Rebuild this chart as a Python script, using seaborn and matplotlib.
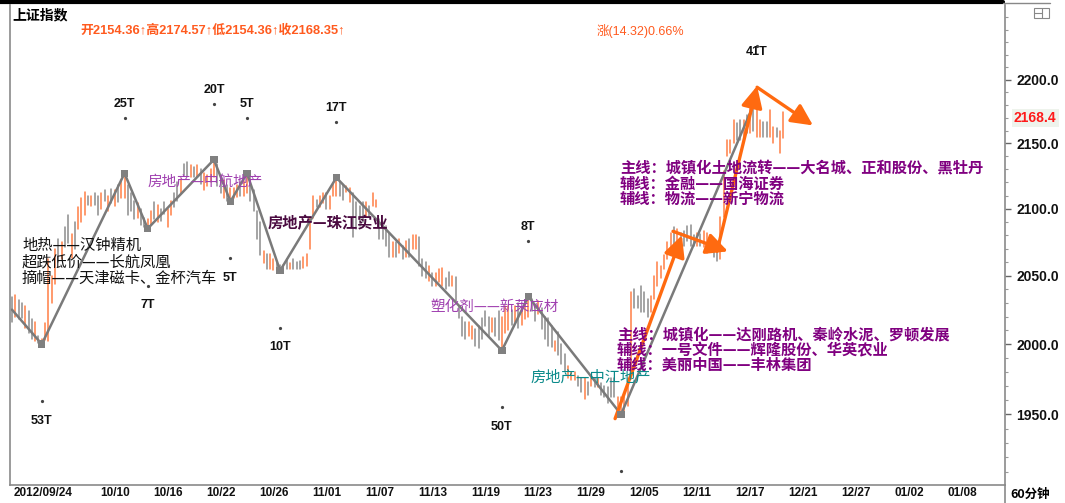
import numpy as np
import pandas as pd
import matplotlib
matplotlib.use('Agg')
import matplotlib.pyplot as plt
import matplotlib.transforms as mtrans
import matplotlib.patches as mpatches
from matplotlib.lines import Line2D
import seaborn as sns

sns.set_theme(style='white')
plt.rcParams['font.family'] = ['Noto Sans CJK SC', 'DejaVu Sans']
plt.rcParams['axes.unicode_minus'] = False

# ---------------- data (60-minute bars) ----------------
bar_high = [
    2034, 2036, 2032, 2030, 2028, 2024, 2018, 2016, 2006, 2004,
    2015, 2062, 2050, 2070, 2077, 2075, 2086, 2095, 2081, 2090,
    2101, 2108, 2113, 2110, 2110, 2112, 2110, 2112, 2114, 2110,
    2115, 2114, 2118, 2122, 2127, 2118, 2112, 2106, 2104, 2100,
    2093, 2092, 2098, 2105, 2103, 2100, 2105, 2100, 2106, 2112,
    2120, 2123, 2134, 2136, 2133, 2132, 2133, 2130, 2127, 2126,
    2130, 2137, 2134, 2126, 2122, 2118, 2116, 2116, 2118, 2120,
    2121, 2127, 2124, 2114, 2098, 2090, 2068, 2066, 2066, 2062,
    2060, 2058, 2058, 2062, 2059, 2062, 2060, 2061, 2064, 2066,
    2093, 2110, 2107, 2110, 2112, 2112, 2110, 2119, 2124, 2120,
    2118, 2117, 2116, 2112, 2105, 2102, 2105, 2105, 2102, 2112,
    2107, 2092, 2090, 2087, 2082, 2075, 2075, 2077, 2072, 2076,
    2077, 2080, 2080, 2079, 2062, 2060, 2057, 2052, 2052, 2055,
    2056, 2048, 2053, 2050, 2049, 2028, 2020, 2016, 2016, 2013,
    2011, 2013, 2019, 2024, 2020, 2019, 2019, 2024, 2020, 2028,
    2028, 2025, 2028, 2030, 2026, 2030, 2035, 2033, 2028, 2031,
    2026, 2020, 2019, 2013, 2002, 2009, 2000, 1993, 1984, 1980,
    1980, 1977, 1976, 1976, 1973, 1977, 1976, 1976, 1972, 1970,
    1969, 1976, 1976, 1962, 1962, 1962, 1976, 2038, 2040, 2035,
    2042, 2038, 2033, 2035, 2050, 2060, 2057, 2065, 2075, 2082,
    2086, 2085, 2082, 2083, 2087, 2088, 2080, 2082, 2081, 2083,
    2082, 2080, 2075, 2072, 2094, 2129, 2153, 2153, 2168, 2166,
    2168, 2168, 2172, 2178, 2182, 2186, 2168, 2167, 2167, 2176,
    2163, 2162, 2160, 2174.57,
]
bar_low = [
    2016, 2020, 2018, 2019, 2012, 2008, 2004, 2002, 2001, 2000,
    2003, 2002, 2030, 2044, 2060, 2062, 2071, 2074, 2063, 2070,
    2085, 2090, 2095, 2103, 2102, 2103, 2095, 2100, 2106, 2098,
    2104, 2102, 2105, 2108, 2108, 2095, 2098, 2092, 2093, 2088,
    2086, 2085, 2088, 2092, 2090, 2091, 2096, 2086, 2095, 2101,
    2106, 2112, 2126, 2125, 2124, 2124, 2124, 2119, 2114, 2117,
    2120, 2124, 2117, 2112, 2108, 2106, 2105, 2108, 2109, 2110,
    2110, 2112, 2106, 2098, 2077, 2065, 2059, 2055, 2055, 2054,
    2055, 2054, 2055, 2055, 2055, 2055, 2055, 2055, 2056, 2057,
    2070, 2093, 2101, 2101, 2104, 2100, 2100, 2110, 2110, 2110,
    2107, 2113, 2105, 2079, 2085, 2087, 2090, 2094, 2094, 2102,
    2101, 2077, 2077, 2072, 2064, 2064, 2064, 2067, 2062, 2064,
    2064, 2070, 2070, 2057, 2050, 2048, 2046, 2042, 2042, 2045,
    2042, 2040, 2042, 2042, 2031, 2019, 2006, 2004, 2006, 2004,
    1999, 1997, 2004, 2013, 2006, 2009, 2006, 2003, 1995, 2008,
    2010, 2014, 2016, 2012, 2014, 2018, 2020, 2024, 2017, 2022,
    2011, 2004, 1999, 1998, 1995, 1992, 1986, 1981, 1976, 1974,
    1974, 1970, 1966, 1961, 1964, 1970, 1969, 1969, 1964, 1962,
    1958, 1962, 1962, 1955, 1950, 1952, 1956, 1975, 2026, 2026,
    2023, 2023, 2020, 2023, 2033, 2042, 2048, 2055, 2062, 2070,
    2072, 2075, 2074, 2072, 2076, 2072, 2072, 2072, 2072, 2071,
    2067, 2068, 2064, 2061, 2062, 2094, 2140, 2143, 2150, 2153,
    2153, 2155, 2158, 2158, 2160, 2155, 2155, 2155, 2155, 2155,
    2150, 2155, 2143, 2154.36,
]
bar_dir = ("dudduddudu" "uuuududdud" "uuududdudu" "duduudddud" "duududduud"
           "duddududuu" "uudduduuud" "uudddduduu" "ddududdduu" "uuduuduuud"
           "duuddddudu" "uddddududu" "duuddduduu" "uddudddduu" "dddddudduu"
           "ududuuuddu" "dddduddduu" "uddudududd" "ddduuuuudd" "ddduuuuuuu"
           "dudddddudu" "uddduuuuud" "dududuuddu" "uduu")

# zigzag (wave) turning points: bar index, price, bar-count label
zig_idx = [0, 9, 34, 41, 61, 66, 71, 81, 98, 148, 156, 184, 225]
zig_price = [2025, 2000, 2127, 2085, 2137.5, 2105.5, 2127, 2053.7, 2123.7,
             1995.4, 2034.6, 1950, 2186]
zig_label = ['', '53T', '25T', '7T', '20T', '5T', '5T', '10T', '17T', '50T',
             '8T', '', '41T']

# x-axis date labels
date_pos = [0, 26, 42, 58, 74, 90, 106, 122, 138, 154, 170, 186, 202, 218,
            234, 250, 266, 282]
date_lbl = ['2012/09/24', '10/10', '10/16', '10/22', '10/26', '11/01', '11/07',
            '11/13', '11/19', '11/23', '11/29', '12/05', '12/11', '12/17',
            '12/21', '12/27', '01/02', '01/08']
price_ticks = [1950, 2000, 2050, 2100, 2150, 2200]

# hand-drawn orange arrows (tail bar, tail price, head bar, head price)
arrows = [(182.2, 1947, 202.4, 2080), (199.7, 2083, 216.3, 2068),
          (213.0, 2068, 225.1, 2195), (225.1, 2194, 242.0, 2164)]

# ---------------- figure ----------------
W, H = 1065, 503
fig = plt.figure(figsize=(W / 100, H / 100), dpi=100)
fig.patch.set_facecolor('white')
ax = fig.add_axes([10 / W, 18 / H, 995 / W, 480 / H])
ax.set_facecolor('white')

UP = '#FF7F45'
DOWN = '#8C8C8C'

n = len(bar_high)
df = pd.DataFrame({
    'bar': np.repeat(np.arange(n), 2),
    'x': np.repeat(np.arange(n), 2).astype(float),
    'price': np.ravel(np.column_stack([bar_low, bar_high])),
    'dir': np.repeat(list(bar_dir), 2),
})
sns.lineplot(data=df, x='x', y='price', units='bar', estimator=None, hue='dir',
             palette={'u': UP, 'd': DOWN}, legend=False, lw=1.1, sort=False,
             ax=ax)

zdf = pd.DataFrame({'x': zig_idx, 'price': zig_price})
sns.lineplot(data=zdf, x='x', y='price', estimator=None, sort=False,
             color='#7A7A7A', lw=1.8, ax=ax)
sns.scatterplot(data=zdf.iloc[1:-1], x='x', y='price', marker='s', s=28,
                color='#808080', edgecolor='none', ax=ax, zorder=5)

ax.set_yscale('log')
ax.set_xlim(-0.6, 300)
ax.set_ylim(1901, 2260)

# wave-count labels and dots
last = len(zig_idx) - 1
for k in range(1, len(zig_idx)):
    i, p = zig_idx[k], zig_price[k]
    is_high = zig_price[k] > zig_price[k - 1]
    lab_off = 50 if is_high else -55
    dot_off = 40 if is_high else -41
    if k == last:
        lab_off, dot_off = 33, 37
    tr = mtrans.offset_copy(ax.transData, fig=fig, x=0, y=dot_off, units='points')
    ax.plot([i], [p], marker='o', ms=1.3, color='#444444', transform=tr)
    if zig_label[k]:
        ax.annotate(zig_label[k], xy=(i, p), xytext=(0, lab_off),
                    textcoords='offset points', ha='center', va='center',
                    fontsize=9, fontweight='bold', color='#111111',
                    family=['Liberation Sans', 'DejaVu Sans'])

# orange arrows
for (x0, y0, x1, y1) in arrows:
    ax.annotate('', xy=(x1, y1), xytext=(x0, y0),
                arrowprops=dict(arrowstyle='-|>,head_length=0.65,head_width=0.32',
                                color='#FF6A10', lw=2.4, mutation_scale=20,
                                shrinkA=0, shrinkB=0))

# axes styling
ax.spines['top'].set_visible(False)
for s in ['left', 'bottom', 'right']:
    ax.spines[s].set_color('#8A8A8A')
    ax.spines[s].set_linewidth(1.2)

ax.yaxis.tick_right()
ax.set_yticks(price_ticks)
ax.set_yticklabels([f'{v:.1f}' for v in price_ticks])
ax.set_yticks([v for v in range(1910, 2260, 10) if v not in price_ticks], minor=True)
ax.yaxis.set_minor_formatter(matplotlib.ticker.NullFormatter())
ax.tick_params(axis='y', which='major', direction='out', length=4, width=1,
               color='#666666', pad=4, labelsize=10, labelcolor='#111111',
               right=True, left=False)
ax.tick_params(axis='y', which='minor', direction='out', length=2, width=0.8,
               color='#999999', right=True, left=False)
for t in ax.get_yticklabels():
    t.set_fontweight('bold')
    t.set_family(['Liberation Sans', 'DejaVu Sans'])

# x ticks: marks from the axis, labels placed as text in the date row
ax.set_xticks(date_pos)
ax.set_xticklabels([''] * len(date_pos))
ax.set_xticks([p - 5 for p in date_pos[1:]], minor=True)
ax.tick_params(axis='x', which='major', direction='out', length=4, width=1,
               color='#888888', pad=0)
ax.tick_params(axis='x', which='minor', direction='out', length=3, width=0.8,
               color='#AAAAAA')
row = mtrans.blended_transform_factory(ax.transData, ax.transAxes)
shift = mtrans.ScaledTranslation(2 / 100, 0, fig.dpi_scale_trans)
for pos, lbl in zip(date_pos, date_lbl):
    ax.text(pos, -8.5 / 480, lbl, transform=row + shift, ha='left', va='center',
            fontsize=8.5, fontweight='bold', color='#111111', clip_on=False,
            family=['Liberation Sans', 'DejaVu Sans'])
ax.set_xlabel('')
ax.set_ylabel('')
ax.grid(False)


# ---------------- frame decorations & texts (pixel placement) ----------------
def fx(x):
    return x / W


def fy(y):
    return 1 - y / H


fig.add_artist(Line2D([fx(0), fx(1003)], [fy(2), fy(2)], color='black', lw=3))
fig.add_artist(Line2D([fx(1003), fx(1050)], [fy(3), fy(3)], color='#888888', lw=1))
fig.add_artist(Line2D([fx(1005), fx(1005)], [fy(485), fy(503)], color='#8A8A8A', lw=1.2))
fig.add_artist(mpatches.Rectangle((fx(1034), fy(18)), 15 / W, 10 / H, fill=False,
                                  ec='#888888', lw=0.8))
fig.add_artist(Line2D([fx(1042), fx(1042)], [fy(8), fy(18)], color='#888888', lw=0.8))
fig.add_artist(Line2D([fx(1034), fx(1042)], [fy(13), fy(13)], color='#888888', lw=0.8))

CJK = ['Noto Sans CJK SC', 'DejaVu Sans']
fig.text(fx(12), fy(15), '上证指数', fontsize=10, fontweight='bold', color='black',
         va='center', ha='left', family=CJK)
fig.text(fx(80), fy(31), '开2154.36↑高2174.57↑低2154.36↑收2168.35↑', fontsize=9.3,
         fontweight='bold', color='#FF5A1E', va='center', ha='left',
         family=['Liberation Sans', 'Noto Sans CJK SC'])
fig.text(fx(597), fy(31), '涨(14.32)0.66%', fontsize=9, color='#FF5A1E',
         va='center', ha='left', family=['Liberation Sans', 'Noto Sans CJK SC'])
fig.text(fx(1014), fy(118), '2168.4', fontsize=10, fontweight='bold', color='#FF1A1A',
         va='center', ha='left', family=['Liberation Sans', 'DejaVu Sans'],
         bbox=dict(boxstyle='square,pad=0.15', fc='#EEF3EC', ec='none'))
fig.text(fx(1010), fy(494), '60分钟', fontsize=9, fontweight='bold', color='black',
         va='center', ha='left', family=CJK)

notes = [
    (22, 245, '地热——汉钟精机', '#111111', 'normal', 11),
    (22, 262, '超跌低价——长航凤凰', '#111111', 'normal', 11),
    (22, 278, '摘帽——天津磁卡、金杯汽车', '#111111', 'normal', 11),
    (148, 182, '房地产—中航地产', '#A040B0', 'normal', 10.5),
    (268, 223, '房地产—珠江实业', '#4A0A40', 'bold', 11),
    (430, 307, '塑化剂——新莱应材', '#A040B0', 'normal', 10.5),
    (531, 377, '房地产—中江地产', '#0A8A8A', 'normal', 11),
    (620, 168, '主线：城镇化土地流转——大名城、正和股份、黑牡丹', '#800080', 'bold', 11),
    (620, 184, '辅线：金融——国海证券', '#800080', 'bold', 11),
    (620, 199, '辅线：物流——新宁物流', '#800080', 'bold', 11),
    (617, 334, '主线：城镇化——达刚路机、秦岭水泥、罗顿发展', '#800080', 'bold', 11),
    (617, 350, '辅线：一号文件——辉隆股份、华英农业', '#800080', 'bold', 11),
    (617, 365, '辅线：美丽中国——丰林集团', '#800080', 'bold', 11),
]
for x, y, s, c, w, fs in notes:
    fig.text(fx(x), fy(y), s, fontsize=fs, color=c, fontweight=w, va='center',
             ha='left', family=CJK, zorder=10)

fig.savefig('out.png', dpi=100, facecolor='white')
